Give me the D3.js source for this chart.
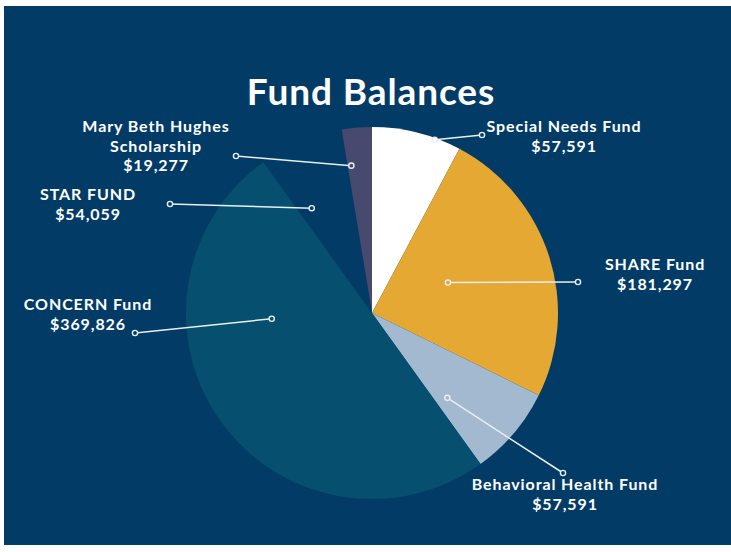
<!DOCTYPE html>
<html>
<head>
<meta charset="utf-8">
<script src="https://cdn.jsdelivr.net/npm/d3@7"></script>
<style>
  body { margin: 0; background: #fff; }
  svg { display: block; }
  text { font-family: Lato, sans-serif; font-weight: 700; fill: #fff; }
</style>
</head>
<body>
<svg id="chart" width="731" height="552"></svg>
<script>
// fund balances, clockwise from 12 o'clock
const funds = ['Special Needs Fund', 'SHARE Fund', 'Behavioral Health Fund', 'CONCERN Fund', 'STAR FUND', 'Mary Beth Hughes Scholarship'];
const balances = [57591, 181297, 57591, 369826, 54059, 19277];
const labelLines = [
    ['Special Needs Fund'],
    ['SHARE Fund'],
    ['Behavioral Health Fund'],
    ['CONCERN Fund'],
    ['STAR FUND'],
    ['Mary Beth Hughes', 'Scholarship']
];
const colors = ['#ffffff', '#e4a833', '#a3b9cf', '#064f6e', '#023b66', '#474a6e'];

// label placement: text centre / first baseline, outer dot, and where the pointer lands in the slice
const labelX = [564, 655, 565, 88, 88, 156];
const labelY = [132, 270, 490, 310, 200, 132];
const dotX = [482, 578, 563, 135, 170, 236];
const dotY = [135, 282, 473, 333, 204, 156];
const pointerT = [0.71, 0.455, 0.79, 0.68, 0.22, 0.15];   // fraction across the slice angle
const pointerR = [0.99, 0.44, 0.61, 0.54, 0.65, 0.80];    // fraction of radius

const bg = '#023b66';
const cx = 372, cy = 313, radius = 186;

const svg = d3.select('#chart');

svg.append('rect')
    .attr('x', 4).attr('y', 6)
    .attr('width', 727).attr('height', 539)
    .attr('fill', bg);

svg.append('text')
    .attr('x', 371).attr('y', 105)
    .attr('text-anchor', 'middle')
    .attr('font-size', 37)
    .attr('letter-spacing', 0.9)
    .text('Fund Balances');

const data = funds.map((name, i) => ({ name, value: balances[i], i }));

const pie = d3.pie().sort(null).value(d => d.value);
const arcs = pie(data);
const arc = d3.arc().innerRadius(0).outerRadius(radius);

const g = svg.append('g').attr('transform', `translate(${cx},${cy})`);

g.selectAll('path')
    .data(arcs)
    .join('path')
    .attr('d', arc)
    .attr('fill', d => colors[d.data.i]);

// leader lines
const pointer = arcs.map(d => {
    const i = d.data.i;
    const a = d.startAngle + pointerT[i] * (d.endAngle - d.startAngle);
    const r = pointerR[i] * radius;
    const [px, py] = d3.arc().innerRadius(r).outerRadius(r).startAngle(a).endAngle(a).centroid();
    return { i, x1: cx + px, y1: cy + py, x2: dotX[i], y2: dotY[i] };
});

const leaders = svg.append('g');
leaders.selectAll('line')
    .data(pointer)
    .join('line')
    .attr('x1', d => d.x1).attr('y1', d => d.y1)
    .attr('x2', d => d.x2).attr('y2', d => d.y2)
    .attr('stroke', '#e8eef3')
    .attr('stroke-width', 1.5);

const ends = pointer.flatMap(d => [
    { x: d.x1, y: d.y1, fill: colors[d.i] },
    { x: d.x2, y: d.y2, fill: bg }
]);
leaders.selectAll('circle')
    .data(ends)
    .join('circle')
    .attr('cx', d => d.x).attr('cy', d => d.y)
    .attr('r', 2.6)
    .attr('fill', d => d.fill)
    .attr('stroke', '#e8eef3')
    .attr('stroke-width', 1.4);

// labels, one text per line
const labels = svg.append('g');
data.forEach((d, i) => {
    const lines = labelLines[i].concat('$' + d3.format(',')(d.value));
    lines.forEach((line, k) => {
        labels.append('text')
            .attr('x', labelX[i])
            .attr('y', labelY[i] + k * 19.5)
            .attr('text-anchor', 'middle')
            .attr('font-size', 16)
            .attr('letter-spacing', 0.9)
            .text(line);
    });
});
</script>
</body>
</html>
